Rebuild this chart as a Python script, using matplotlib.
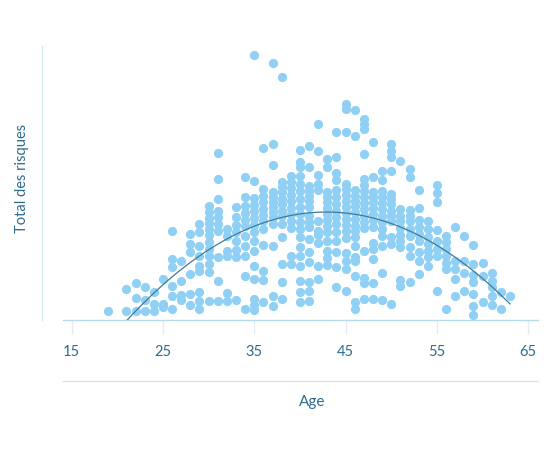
import numpy as np
import matplotlib.pyplot as plt
from matplotlib.lines import Line2D

plt.rcParams['font.family'] = ['Lato', 'DejaVu Sans']

# ages (one column of dots per age) and the "total des risques" of each person
ages = [19, 21, 22, 23, 24, 25, 26, 27, 28, 29, 30, 31, 32, 33, 34, 35, 36, 37,
        38, 39, 40, 41, 42, 43, 44, 45, 46, 47, 48, 49, 50, 51, 52, 53, 54, 55,
        56, 57, 58, 59, 60, 61, 62, 63]
scores = [
    [2.2],
    [2.2, 7.8],
    [2.2, 5.5, 9.2],
    [2.2, 5.0, 8.2],
    [2.2, 4.0, 7.0],
    [3.2, 4.0, 10.2],
    [2.8, 6.0, 8.5, 13.2, 15.2, 22.2],
    [5.0, 6.2, 9.8, 14.8],
    [3.8, 6.5, 11.5, 17.0, 19.0, 21.5],
    [2.8, 4.8, 7.0, 12.2, 13.5, 16.0, 18.5, 22.0, 24.0],
    [4.8, 12.0, 14.0, 16.0, 17.8, 19.5, 21.2, 22.8, 24.2, 25.5, 27.0, 28.5],
    [4.8, 9.8, 15.8, 22.2, 24.0, 25.8, 27.2, 30.2, 35.2, 41.8],
    [4.8, 6.8, 16.0, 17.2, 21.0, 22.8],
    [5.0, 15.8, 17.5, 19.8, 22.0, 23.8, 25.8, 28.2],
    [2.8, 11.0, 16.0, 18.5, 21.0, 23.5, 25.0, 26.8, 28.5, 30.8, 35.8],
    [2.5, 3.8, 5.2, 10.2, 13.5, 17.2, 19.8, 22.0, 23.8, 25.5, 27.2, 28.8, 30.5, 34.8, 66.2],
    [4.5, 10.0, 12.2, 18.8, 22.8, 24.8, 26.2, 27.8, 29.5, 31.0, 32.8, 43.0],
    [3.5, 6.0, 18.5, 24.0, 25.8, 27.0, 28.2, 29.5, 30.8, 32.0, 38.8, 44.0, 64.2],
    [5.2, 9.5, 14.0, 20.8, 24.0, 26.0, 27.2, 29.0, 30.2, 32.0, 33.2, 34.5, 60.8],
    [14.0, 16.0, 23.0, 24.8, 26.5, 28.0, 29.8, 31.2, 33.0, 34.5, 36.0],
    [4.5, 7.0, 9.8, 13.5, 16.0, 18.2, 20.8, 22.8, 24.5, 26.5, 28.2, 30.2, 32.2, 34.0, 36.0, 38.2, 39.5, 42.5],
    [4.8, 7.2, 9.5, 14.5, 17.0, 20.2, 23.2, 24.5, 26.0, 28.2, 29.8, 31.0, 32.2, 33.5, 38.2, 43.5],
    [10.2, 13.5, 19.2, 21.2, 22.2, 24.8, 32.5, 34.0, 36.2, 42.2, 49.0],
    [13.8, 15.5, 17.2, 19.8, 22.0, 23.5, 25.0, 26.5, 28.0, 29.5, 30.8, 32.0, 38.2, 40.2],
    [8.2, 13.2, 17.0, 19.8, 22.0, 24.0, 25.8, 27.2, 29.0, 30.8, 32.5, 35.0, 36.8, 40.8, 47.0],
    [7.2, 12.8, 14.8, 16.8, 20.5, 22.2, 23.8, 25.2, 26.8, 28.2, 29.8, 31.2, 32.8, 34.0, 47.0, 52.8, 54.0],
    [2.8, 4.5, 11.0, 14.8, 15.8, 18.5, 20.8, 22.2, 23.5, 25.2, 27.0, 28.5, 29.8, 31.0, 32.5, 46.0, 52.5],
    [5.2, 9.2, 10.5, 17.2, 23.0, 24.5, 26.0, 27.8, 29.2, 30.8, 32.2, 33.8, 35.2, 41.5, 47.8, 49.0, 50.2],
    [5.2, 9.2, 15.2, 17.8, 19.2, 23.2, 25.0, 26.5, 28.0, 29.5, 30.8, 32.0, 35.8, 44.5],
    [5.0, 11.8, 18.5, 21.0, 22.8, 24.5, 26.0, 27.8, 29.2, 30.8, 32.2, 35.0, 37.2],
    [4.0, 19.0, 20.8, 24.8, 26.0, 27.2, 29.0, 30.2, 31.5, 37.2, 40.8, 42.2, 44.0],
    [8.5, 10.0, 18.2, 19.8, 21.2, 23.0, 24.8, 26.0, 27.8, 39.8],
    [9.5, 16.0, 18.2, 21.0, 22.8, 24.8, 26.0, 27.5, 35.8, 37.8],
    [11.5, 14.8, 17.0, 19.8, 21.5, 23.2, 25.0, 28.0, 32.5],
    [13.5, 15.8, 17.2, 19.0, 20.8, 22.8, 24.8],
    [7.2, 16.0, 17.8, 19.8, 22.5, 29.5, 31.8, 33.8],
    [2.8, 12.8, 14.2, 16.0, 17.8, 19.5, 21.0],
    [6.0, 10.2, 12.8, 14.8, 23.2],
    [7.2, 11.8, 14.8, 21.0],
    [1.2, 3.5, 6.5, 9.5, 11.2, 14.0, 18.8],
    [4.5, 11.0, 14.2],
    [3.8, 6.0, 8.2, 9.8, 11.8],
    [2.8, 7.0],
    [6.0],
]
xticks = [15, 25, 35, 45, 55, 65]

x = np.concatenate([[a] * len(s) for a, s in zip(ages, scores)])
y = np.concatenate(scores)

text_col = '#2f6b8e'

fig = plt.figure(figsize=(5.52, 4.52), dpi=100)
ax = fig.add_axes([0.1141, 0.2898, 0.8600, 0.6062])

ax.scatter(x, y, s=44, color='#8fd0f4', linewidths=0, zorder=2)

# quadratic trend
coef = np.polyfit(x, y, 2)
xs = np.linspace(min(ages), max(ages), 200)
ax.plot(xs, np.polyval(coef, xs), color='#3f7b99', lw=0.9, zorder=3)

ax.set_xlim(14.05, 66.04)
ax.set_ylim(0, 68.5)
ax.set_xticks(xticks)
ax.set_yticks([])
ax.tick_params(axis='x', length=10, width=1, color='#e1edf3', pad=7,
               labelsize=10.5, labelcolor=text_col)

for sp in ['top', 'right']:
    ax.spines[sp].set_visible(False)
ax.spines['left'].set_position(('outward', 15))
ax.spines['left'].set_color('#d3e6ef')
ax.spines['bottom'].set_color('#b8d9e8')
ax.spines['bottom'].set_linewidth(1)

ax.add_line(Line2D([0, 1], [-0.222, -0.222], transform=ax.transAxes,
                   color='#d3e6ef', lw=1, clip_on=False))

ax.text(0.5245, -0.296, 'Age', transform=ax.transAxes, ha='center',
        va='center', fontsize=11, color=text_col)
ax.text(-0.087, 0.522, 'Total des risques', transform=ax.transAxes,
        ha='center', va='center', rotation=90, fontsize=10.5, color=text_col)

fig.savefig('out.png', dpi=100)
